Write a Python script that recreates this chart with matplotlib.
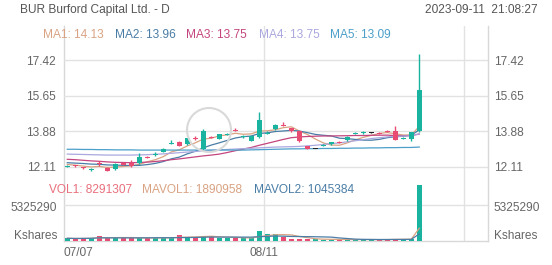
import matplotlib
matplotlib.use('Agg')
import matplotlib.pyplot as plt
import numpy as np
import pandas as pd
from matplotlib.patches import Circle
from matplotlib.transforms import IdentityTransform

plt.rcParams['font.family'] = ['Liberation Sans', 'DejaVu Sans']

# ---------------- data ----------------
title = 'BUR Burford Capital Ltd. - D'
timestamp = '2023-09-11  21:08:27'
x_labels = ['07/07', '08/11']

opens = [12.14, 12.18, 12.08, 11.96, 12.29, 12.06, 11.98, 12.31, 12.30, 12.28,
         12.60, 12.71, 12.86, 13.29, 13.36, 13.22, 13.57, 13.00, 13.59, 13.50,
         13.72, 13.97, 13.62, 13.41, 13.61, 13.79, 13.97, 14.21, 14.02, 13.88,
         13.12, 13.04, 13.17, 13.23, 13.35, 13.43, 13.76, 13.80, 13.82, 13.83,
         13.89, 13.90, 13.51, 13.50, 13.90]
highs = [12.22, 12.20, 12.12, 12.03, 12.42, 12.08, 12.28, 12.34, 12.46, 12.78,
         12.66, 12.82, 13.02, 13.42, 13.38, 13.56, 13.64, 13.98, 13.62, 13.76,
         13.80, 14.05, 13.70, 13.67, 14.85, 13.88, 14.26, 14.32, 14.06, 13.90,
         13.14, 13.05, 13.26, 13.36, 13.40, 13.64, 13.84, 13.90, 13.83, 13.86,
         13.95, 14.13, 13.58, 13.85, 17.73]
lows = [12.10, 12.12, 12.02, 11.88, 12.15, 11.90, 11.95, 12.18, 12.12, 12.25,
        12.52, 12.66, 12.84, 13.25, 13.12, 13.20, 13.42, 12.96, 13.52, 13.48,
        13.70, 13.90, 13.55, 13.38, 13.53, 13.76, 13.95, 14.16, 13.85, 13.35,
        12.98, 13.03, 13.12, 13.20, 13.28, 13.41, 13.72, 13.76, 13.81, 13.76,
        13.82, 13.42, 13.48, 13.38, 13.86]
closes = [12.18, 12.15, 12.05, 11.99, 12.26, 11.92, 12.24, 12.21, 12.16, 12.61,
          12.56, 12.75, 12.98, 13.33, 13.14, 13.53, 13.53, 13.91, 13.55, 13.73,
          13.77, 13.93, 13.66, 13.64, 14.44, 13.83, 14.19, 14.18, 13.87, 13.37,
          13.00, 13.04, 13.21, 13.33, 13.31, 13.61, 13.78, 13.84, 13.82, 13.79,
          13.85, 13.45, 13.55, 13.82, 15.93]
volumes = [400000, 350000, 400000, 450000, 750000, 450000, 450000, 450000, 450000, 500000,
           450000, 450000, 450000, 500000, 850000, 600000, 600000, 750000, 700000, 450000,
           450000, 400000, 450000, 500000, 1450000, 1100000, 1100000, 550000, 300000, 300000,
           280000, 250000, 200000, 200000, 250000, 220000, 200000, 200000, 200000, 200000,
           280000, 330000, 250000, 300000, 8291307]

ma_periods = [5, 10, 20, 30, 60]
ma_names = ['MA1', 'MA2', 'MA3', 'MA4', 'MA5']
ma_last = ['14.13', '13.96', '13.75', '13.75', '13.09']
# values read from the picture where the visible closes are not enough
ma1_head = [12.22, 12.19, 12.14, 12.10]
ma2_head = [12.31, 12.29, 12.27, 12.24, 12.23, 12.20, 12.19, 12.18, 12.17]
ma3_head = [12.48, 12.46, 12.43, 12.40, 12.38, 12.35, 12.33, 12.32, 12.31, 12.32,
            12.34, 12.37, 12.41, 12.46, 12.50, 12.55, 12.60, 12.65, 12.69]
ma4_head = [12.74, 12.73, 12.72, 12.71, 12.70, 12.69, 12.69, 12.69, 12.69, 12.70,
            12.71, 12.73, 12.75, 12.78, 12.81, 12.84, 12.87, 12.90, 12.93, 12.95,
            12.97, 12.99, 13.01, 13.03, 13.05, 13.07, 13.09, 13.10, 13.11]
ma5_head = [12.98, 12.98, 12.97, 12.97, 12.96, 12.96, 12.95, 12.95, 12.95, 12.94,
            12.94, 12.94, 12.94, 12.94, 12.94, 12.94, 12.94, 12.94, 12.94, 12.94,
            12.94, 12.94, 12.94, 12.95, 12.96, 12.97, 12.98, 12.99, 13.00, 13.00,
            13.01, 13.01, 13.02, 13.02, 13.03, 13.03, 13.04, 13.04, 13.05, 13.05,
            13.06, 13.06, 13.07, 13.07, 13.09]
ma_heads = [ma1_head, ma2_head, ma3_head, ma4_head, ma5_head]

vol_name = 'VOL1'
vol_last = '8291307'
mavol_names = ['MAVOL1', 'MAVOL2']
mavol_periods = [5, 10]
mavol_last = ['1890958', '1045384']

price_ticks = [12.11, 13.88, 15.65, 17.42]
vol_tick = 5325290

# ---------------- styling ----------------
W, H = 552, 265
UP = '#19b3a0'
DOWN = '#e84c73'
DOJI = '#222222'
MA_COLORS = ['#d9a383', '#4a7da6', '#c4457f', '#aaa8de', '#4b9fc9']
MAVOL_COLORS = ['#d9a383', '#4a7da6']
GRID = '#e2e2e2'
TXT = '#666666'

fig = plt.figure(figsize=(W / 100, H / 100), dpi=100)
fig.patch.set_facecolor('white')

def ax_rect(left, top, right, bottom):
    return [left / W, 1 - bottom / H, (right - left) / W, (bottom - top) / H]

n = len(closes)
idx = np.arange(n)
xmin, xmax = -0.41, 52.59
vgrid = [24.6, 49.6]

# background frame spanning both panels
bg = fig.add_axes(ax_rect(64, 26, 488, 241))
bg.set_xlim(xmin, xmax)
bg.set_ylim(0, 1)
for xv in vgrid:
    bg.axvline(xv, color=GRID, lw=1)
bg.spines['top'].set_visible(False)
for s in ['left', 'right', 'bottom']:
    bg.spines[s].set_color('#d8d8d8')
    bg.spines[s].set_linewidth(1)
bg.set_xticks([])
bg.set_yticks([])
bg.patch.set_alpha(0)

# watermark circle (pixel coordinates)
wm = Circle((209, H - 130), 22, transform=IdentityTransform(),
            fill=False, edgecolor='#d9d9d9', lw=1.5, zorder=0)
fig.patches.append(wm)

# price panel
pa = fig.add_axes(ax_rect(64, 26, 488, 182))
pa.patch.set_alpha(0)
pa.set_xlim(xmin, xmax)
p_top = 17.42 + (60.2 - 26) / 20.06
p_bot = 17.42 - (182 - 60.2) / 20.06
pa.set_ylim(p_bot, p_top)
for pv in price_ticks:
    pa.axhline(pv, color=GRID, lw=1, zorder=0)
for s in pa.spines.values():
    s.set_visible(False)
pa.set_xticks([])
pa.set_yticks([])

close_s = pd.Series(closes, dtype=float)
for k, (per, head) in enumerate(zip(ma_periods, ma_heads)):
    ser = close_s.rolling(per).mean().to_numpy()
    ser[:len(head)] = head
    pa.plot(idx, ser, color=MA_COLORS[k], lw=0.9, zorder=2)

bw = 0.68
for i in idx:
    o, h, l, c = opens[i], highs[i], lows[i], closes[i]
    if c > o:
        col = UP
    elif c < o:
        col = DOWN
    else:
        col = DOJI
    pa.vlines(i, l, h, color=col, lw=1, zorder=3)
    body = max(abs(c - o), 0.05)
    pa.bar(i, body, bottom=min(o, c) - (0.025 if abs(c - o) < 0.05 else 0),
           width=bw, color=col, zorder=4, linewidth=0)

# volume panel
va = fig.add_axes(ax_rect(64, 183, 488, 241))
va.patch.set_alpha(0)
va.set_xlim(xmin, xmax)
va.set_ylim(0, vol_tick * 58 / 36)
va.axhline(vol_tick, color=GRID, lw=1, zorder=0)
for s in va.spines.values():
    s.set_visible(False)
va.set_xticks([])
va.set_yticks([])
vcols = [UP if closes[i] >= opens[i] else DOWN for i in idx]
va.bar(idx, volumes, width=bw, color=vcols, linewidth=0, zorder=3)
vol_s = pd.Series(volumes, dtype=float)
for k, per in enumerate(mavol_periods):
    va.plot(idx, vol_s.rolling(per, min_periods=1).mean(), color=MAVOL_COLORS[k], lw=0.9, zorder=4)

# ---------------- texts ----------------
FS = 8.6
def ftext(x, y, s, color=TXT, ha='left', va_='center', size=FS):
    fig.text(x / W, 1 - y / H, s, color=color, ha=ha, va=va_, fontsize=size)

ftext(20, 10, title, color='#555555')
ftext(538, 10, timestamp, color='#555555', ha='right')

ma_x = [43, 115, 186, 259, 330]
for k in range(5):
    ftext(ma_x[k], 35, f'{ma_names[k]}: {ma_last[k]}', color=MA_COLORS[k])

ftext(49, 190, f'{vol_name}: {vol_last}', color='#e8707d')
ftext(142, 190, f'{mavol_names[0]}: {mavol_last[0]}', color=MAVOL_COLORS[0])
ftext(254, 190, f'{mavol_names[1]}: {mavol_last[1]}', color=MAVOL_COLORS[1])

for pv in price_ticks:
    ypx = 60.2 + (17.42 - pv) * 20.06
    ftext(56, ypx + 1.5, f'{pv:.2f}', ha='right')
    ftext(494, ypx + 1.5, f'{pv:.2f}', ha='left')

ftext(57, 208, f'{vol_tick}', ha='right')
ftext(494, 208, f'{vol_tick}', ha='left')
ftext(57, 236, 'Kshares', ha='right')
ftext(494, 236, 'Kshares', ha='left')

ftext(64, 253, x_labels[0], ha='left')
ftext(264, 253, x_labels[1], ha='center')

fig.savefig('out.png', dpi=100, facecolor='white')
